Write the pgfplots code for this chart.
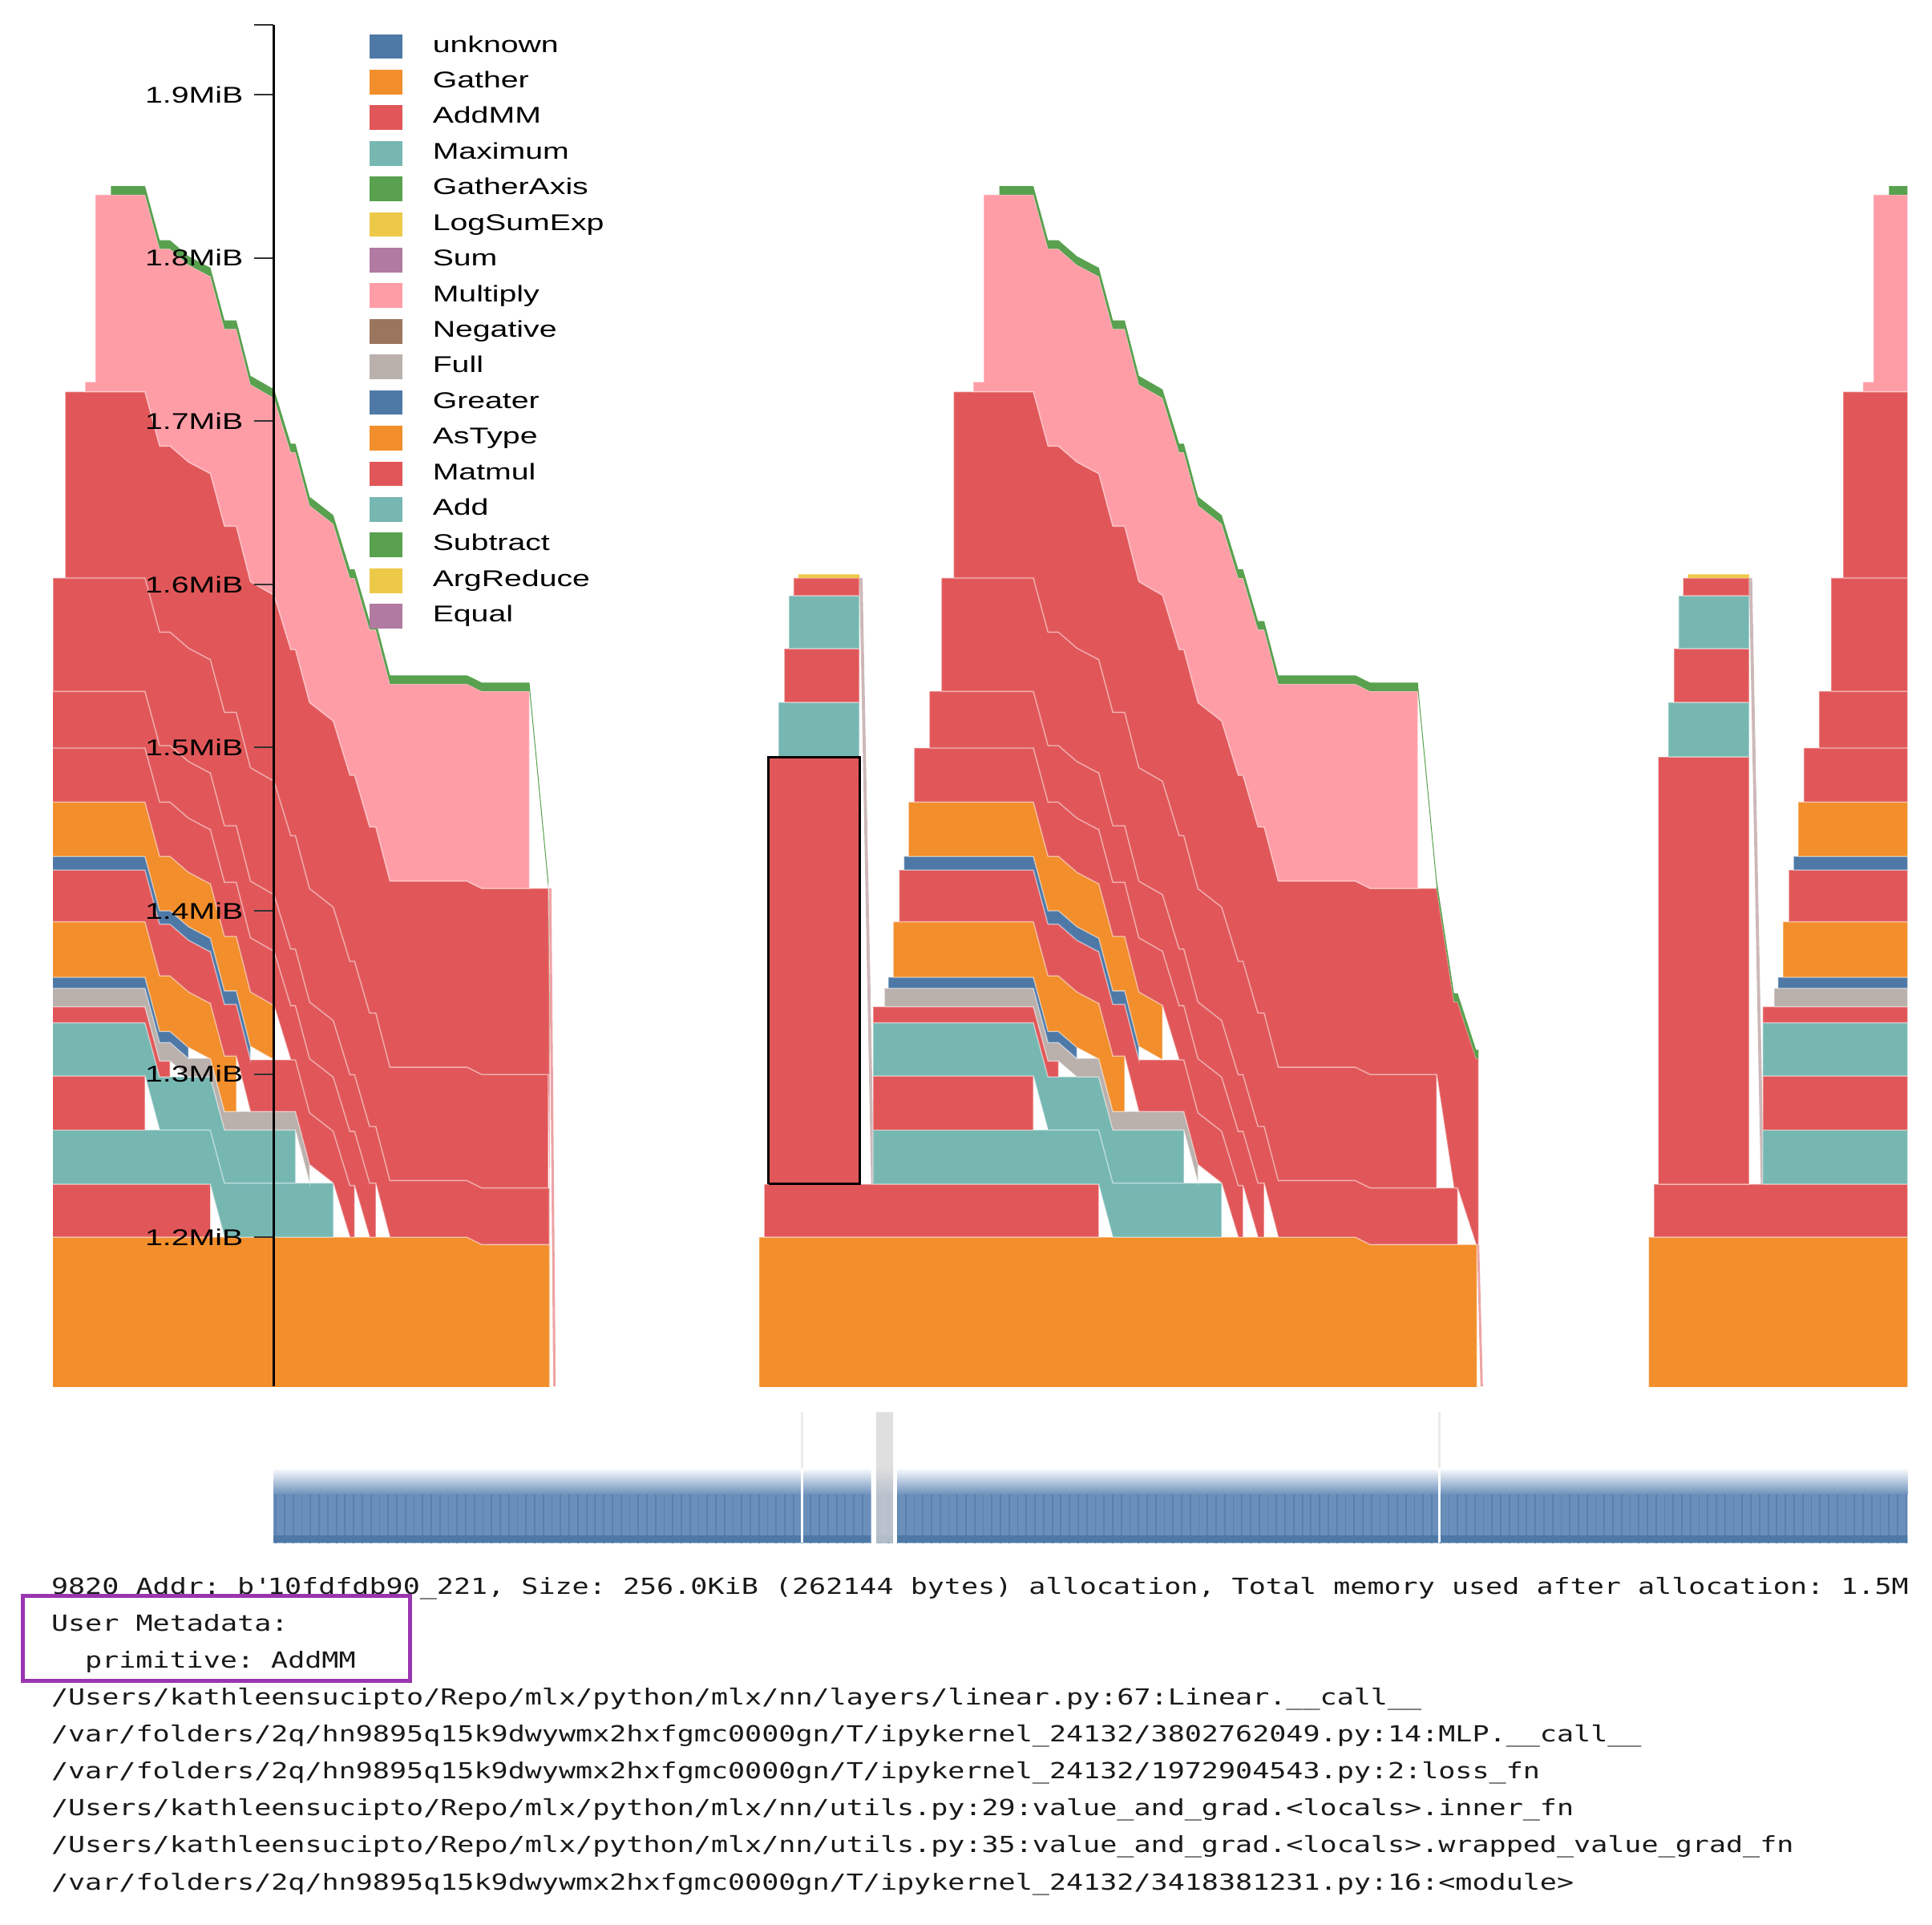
\documentclass[border=0pt]{standalone}
\usepackage{pgfplots}
\pgfplotsset{compat=1.18}
\usepackage{fontspec}
\setmainfont{Liberation Sans}
\newfontfamily\sansx[FakeStretch=1.38]{Liberation Sans}
\newfontfamily\monox[FakeStretch=1.267]{DejaVu Sans Mono}
\usetikzlibrary{patterns.meta}

\definecolor{cBlue}{HTML}{4E79A7}
\definecolor{cOrange}{HTML}{F28E2B}
\definecolor{cRed}{HTML}{E15759}
\definecolor{cTeal}{HTML}{76B7B2}
\definecolor{cGreen}{HTML}{59A14F}
\definecolor{cYellow}{HTML}{EDC948}
\definecolor{cPurple}{HTML}{B07AA1}
\definecolor{cPink}{HTML}{FF9DA7}
\definecolor{cBrown}{HTML}{9C755F}
\definecolor{cGray}{HTML}{BAB0AC}
\definecolor{cBrush}{HTML}{6A8FBB}
\definecolor{cBrushDark}{HTML}{5A80AE}
\definecolor{cBox}{HTML}{9A35B0}
\definecolor{cSliver}{HTML}{CDB8B9}

\def\secshift{0}
\def\secmax{5000}
\pgfplotsset{
  S/.style={x filter/.expression={min(x+\secshift,\secmax)}},
  blk/.style={forget plot, S, draw=white, draw opacity=0.35, line width=0.3pt},
}

\newcommand{\memsection}{%
% B0 orange base
\addplot[blk, fill=cOrange] coordinates {(616,1.09)(616,1.2000)(1100,1.2000)(1112,1.1955)(1198.7,1.1955)(1198.7,1.09)(616,1.09)};
% B1 red
\addplot[blk, fill=cRed] coordinates {(620.3,1.2000)(620.3,1.2325)(891.7,1.2325)(891.7,1.2000)(620.3,1.2000)};
% tower
\addplot[blk, fill=cRed] coordinates {(623.8,1.2325)(623.8,1.4943)(697.5,1.4943)(697.5,1.2325)(623.8,1.2325)};
\addplot[blk, fill=cTeal] coordinates {(631.9,1.4943)(631.9,1.5277)(697.5,1.5277)(697.5,1.4943)(631.9,1.4943)};
\addplot[blk, fill=cRed] coordinates {(636.5,1.5277)(636.5,1.5606)(697.5,1.5606)(697.5,1.5277)(636.5,1.5277)};
\addplot[blk, fill=cTeal] coordinates {(640.3,1.5606)(640.3,1.5930)(697.5,1.5930)(697.5,1.5606)(640.3,1.5606)};
\addplot[blk, fill=cRed] coordinates {(644.1,1.5930)(644.1,1.6039)(697.5,1.6039)(697.5,1.5930)(644.1,1.5930)};
\addplot[blk, draw=none, fill=cYellow] coordinates {(648,1.6039)(648,1.6062)(697.5,1.6062)(697.5,1.6039)(648,1.6039)};
\addplot[blk, draw=none, fill=cSliver] coordinates {(697.5,1.6039)(700,1.6039)(709.5,1.2325)(707,1.2325)(697.5,1.6039)};
% B2 teal
\addplot[blk, fill=cTeal] coordinates {(708.6,1.2325)(708.6,1.2657)(891.7,1.2657)(903.2,1.2332)(991.5,1.2332)(991.5,1.2000)(903.2,1.2000)(891.7,1.2325)(708.6,1.2325)};
% B3 red
\addplot[blk, fill=cRed] coordinates {(708.6,1.2657)(708.6,1.2989)(838.7,1.2989)(838.7,1.2657)(708.6,1.2657)};
% B4 teal
\addplot[blk, fill=cTeal] coordinates {(708.6,1.2989)(708.6,1.3314)(838.7,1.3314)(850.6,1.2982)(891.7,1.2982)(903.2,1.2657)(960.8,1.2657)(960.8,1.2332)(903.2,1.2332)(891.7,1.2657)(850.6,1.2657)(838.7,1.2989)(708.6,1.2989)};
% B5 red thin
\addplot[blk, fill=cRed] coordinates {(708.6,1.3314)(708.6,1.3412)(838.7,1.3412)(850.6,1.3080)(859,1.3080)(859,1.2982)(850.6,1.2982)(838.7,1.3314)(708.6,1.3314)};
% B6 gray
\addplot[blk, fill=cGray] coordinates {(717.8,1.3412)(717.8,1.3525)(838.7,1.3525)(850.6,1.3193)(859,1.3193)(874,1.3095)(891.7,1.3095)(903.2,1.2770)(960.8,1.2770)(972.3,1.2445)(972.3,1.2332)(960.8,1.2657)(903.2,1.2657)(891.7,1.2982)(874,1.2982)(859,1.3080)(850.6,1.3080)(838.7,1.3412)(717.8,1.3412)};
% B7 blue
\addplot[blk, fill=cBlue] coordinates {(720.9,1.3525)(720.9,1.3593)(838.7,1.3593)(850.6,1.3261)(859,1.3261)(874,1.3163)(874,1.3095)(859,1.3193)(850.6,1.3193)(838.7,1.3525)(720.9,1.3525)};
% B8 orange
\addplot[blk, fill=cOrange] coordinates {(725,1.3593)(725,1.3933)(838.7,1.3933)(850.6,1.3601)(859,1.3601)(874,1.3503)(891,1.3435)(891.7,1.3435)(903.2,1.3110)(912.8,1.3110)(912.8,1.2770)(903.2,1.2770)(891.7,1.3095)(891,1.3095)(874,1.3163)(859,1.3261)(850.6,1.3261)(838.7,1.3593)(725,1.3593)};
% B9 red
\addplot[blk, fill=cRed] coordinates {(729.7,1.4250)(838.7,1.4250)(850.6,1.3918)(859,1.3918)(874,1.3820)(891,1.3752)(891.7,1.3752)(903.2,1.3427)(912.8,1.3427)(924.3,1.3087)(960.8,1.3087)(972.3,1.2762)(991.5,1.2649)(1005,1.2317)(1008.8,1.2317)(1008.8,1.2000)(1005,1.2000)(991.5,1.2332)(972.3,1.2445)(960.8,1.2770)(924.3,1.2770)(912.8,1.3110)(903.2,1.3110)(891.7,1.3435)(891,1.3435)(874,1.3503)(859,1.3601)(850.6,1.3601)(838.7,1.3933)(729.7,1.3933)(729.7,1.4250)};
% B10 blue
\addplot[blk, fill=cBlue] coordinates {(733.6,1.4333)(838.7,1.4333)(850.6,1.4001)(859,1.4001)(874,1.3903)(891,1.3835)(891.7,1.3835)(903.2,1.3510)(912.8,1.3510)(924.3,1.3170)(924.3,1.3087)(912.8,1.3427)(903.2,1.3427)(891.7,1.3752)(891,1.3752)(874,1.3820)(859,1.3918)(850.6,1.3918)(838.7,1.4250)(733.6,1.4250)(733.6,1.4333)};
% B11 orange
\addplot[blk, fill=cOrange] coordinates {(737.4,1.4666)(838.7,1.4666)(850.6,1.4334)(859,1.4334)(874,1.4236)(891,1.4168)(891.7,1.4168)(903.2,1.3843)(912.8,1.3843)(924.3,1.3503)(943.5,1.3420)(943.5,1.3087)(924.3,1.3170)(912.8,1.3510)(903.2,1.3510)(891.7,1.3835)(891,1.3835)(874,1.3903)(859,1.4001)(850.6,1.4001)(838.7,1.4333)(737.4,1.4333)(737.4,1.4666)};
% B12 red
\addplot[blk, fill=cRed] coordinates {(742,1.4998)(838.7,1.4998)(850.6,1.4666)(859,1.4666)(874,1.4568)(891,1.4500)(891.7,1.4500)(903.2,1.4175)(912.8,1.4175)(924.3,1.3835)(943.5,1.3752)(957,1.3419)(960.8,1.3419)(972.3,1.3094)(991.5,1.2981)(1005,1.2649)(1008.8,1.2649)(1021,1.2332)(1026,1.2332)(1026,1.2000)(1021,1.2000)(1008.8,1.2317)(1005,1.2317)(991.5,1.2649)(972.3,1.2762)(960.8,1.3087)(957,1.3087)(943.5,1.3420)(924.3,1.3503)(912.8,1.3843)(903.2,1.3843)(891.7,1.4168)(891,1.4168)(874,1.4236)(859,1.4334)(850.6,1.4334)(838.7,1.4666)(742,1.4666)(742,1.4998)};
% B13 red
\addplot[blk, fill=cRed] coordinates {(754.3,1.4998)(754.3,1.5345)(838.7,1.5345)(850.6,1.5013)(859,1.5013)(874,1.4915)(891,1.4847)(891.7,1.4847)(903.2,1.4522)(912.8,1.4522)(924.3,1.4182)(943.5,1.4099)(957,1.3766)(960.8,1.3766)(972.3,1.3441)(991.5,1.3328)(1005,1.2996)(1008.8,1.2996)(1021,1.2679)(1026,1.2679)(1037.5,1.2347)(1100,1.2347)(1112,1.2302)(1183,1.2302)(1183,1.1955)(1112,1.1955)(1100,1.2000)(1037.5,1.2000)(1026,1.2332)(1021,1.2332)(1008.8,1.2649)(1005,1.2649)(991.5,1.2981)(972.3,1.3094)(960.8,1.3419)(957,1.3419)(943.5,1.3752)(924.3,1.3835)(912.8,1.4175)(903.2,1.4175)(891.7,1.4500)(891,1.4500)(874,1.4568)(859,1.4666)(850.6,1.4666)(838.7,1.4998)(754.3,1.4998)};
% B14 red
\addplot[blk, fill=cRed] coordinates {(764,1.5345)(764,1.6040)(838.7,1.6040)(850.6,1.5708)(859,1.5708)(874,1.5610)(891,1.5542)(891.7,1.5542)(903.2,1.5217)(912.8,1.5217)(924.3,1.4877)(943.5,1.4794)(957,1.4461)(960.8,1.4461)(972.3,1.4136)(991.5,1.4023)(1005,1.3691)(1008.8,1.3691)(1021,1.3374)(1026,1.3374)(1037.5,1.3042)(1100,1.3042)(1112,1.2997)(1166,1.2997)(1166,1.2302)(1112,1.2302)(1100,1.2347)(1037.5,1.2347)(1026,1.2679)(1021,1.2679)(1008.8,1.2996)(1005,1.2996)(991.5,1.3328)(972.3,1.3441)(960.8,1.3766)(957,1.3766)(943.5,1.4099)(924.3,1.4182)(912.8,1.4522)(903.2,1.4522)(891.7,1.4847)(891,1.4847)(874,1.4915)(859,1.5013)(850.6,1.5013)(838.7,1.5345)(764,1.5345)};
% B15 red
\addplot[blk, fill=cRed] coordinates {(773.9,1.6040)(773.9,1.7180)(838.7,1.7180)(850.6,1.6848)(859,1.6848)(874,1.6750)(891,1.6682)(891.7,1.6682)(903.2,1.6357)(912.8,1.6357)(924.3,1.6017)(943.5,1.5934)(957,1.5601)(960.8,1.5601)(972.3,1.5276)(991.5,1.5163)(1005,1.4831)(1008.8,1.4831)(1021,1.4514)(1026,1.4514)(1037.5,1.4182)(1100,1.4182)(1112,1.4137)(1166,1.4137)(1180,1.3442)(1183,1.3442)(1198,1.3095)(1200,1.3095)(1200,1.1955)(1198,1.1955)(1183,1.2302)(1180,1.2302)(1166,1.2997)(1112,1.2997)(1100,1.3042)(1037.5,1.3042)(1026,1.3374)(1021,1.3374)(1008.8,1.3691)(1005,1.3691)(991.5,1.4023)(972.3,1.4136)(960.8,1.4461)(957,1.4461)(943.5,1.4794)(924.3,1.4877)(912.8,1.5217)(903.2,1.5217)(891.7,1.5542)(891,1.5542)(874,1.5610)(859,1.5708)(850.6,1.5708)(838.7,1.6040)(773.9,1.6040)};
% B16 pink
\addplot[blk, fill=cPink] coordinates {(790,1.7180)(790,1.7241)(798.4,1.7241)(798.4,1.8388)(838.7,1.8388)(850.6,1.8056)(859,1.8056)(874,1.7958)(891,1.7890)(891.7,1.7890)(903.2,1.7565)(912.8,1.7565)(924.3,1.7225)(943.5,1.7142)(957,1.6809)(960.8,1.6809)(972.3,1.6484)(991.5,1.6371)(1005,1.6039)(1008.8,1.6039)(1021,1.5722)(1026,1.5722)(1037.5,1.5390)(1100,1.5390)(1112,1.5345)(1150.7,1.5345)(1150.7,1.4137)(1112,1.4137)(1100,1.4182)(1037.5,1.4182)(1026,1.4514)(1021,1.4514)(1008.8,1.4831)(1005,1.4831)(991.5,1.5163)(972.3,1.5276)(960.8,1.5601)(957,1.5601)(943.5,1.5934)(924.3,1.6017)(912.8,1.6357)(903.2,1.6357)(891.7,1.6682)(891,1.6682)(874,1.6750)(859,1.6848)(850.6,1.6848)(838.7,1.7180)(790,1.7180)};
% B17 green
\addplot[blk, draw=none, fill=cGreen] coordinates {(811,1.8388)(811,1.8441)(838.7,1.8441)(850.6,1.8109)(859,1.8109)(874,1.8011)(891,1.7943)(891.7,1.7943)(903.2,1.7618)(912.8,1.7618)(924.3,1.7278)(943.5,1.7195)(957,1.6862)(960.8,1.6862)(972.3,1.6537)(991.5,1.6424)(1005,1.6092)(1008.8,1.6092)(1021,1.5775)(1026,1.5775)(1037.5,1.5443)(1100,1.5443)(1112,1.5398)(1150.7,1.5398)(1166,1.4190)(1180,1.3495)(1183,1.3495)(1198,1.3148)(1200,1.3148)(1200,1.3095)(1198,1.3095)(1183,1.3442)(1180,1.3442)(1166,1.4137)(1150.7,1.5345)(1112,1.5345)(1100,1.5390)(1037.5,1.5390)(1026,1.5722)(1021,1.5722)(1008.8,1.6039)(1005,1.6039)(991.5,1.6371)(972.3,1.6484)(960.8,1.6809)(957,1.6809)(943.5,1.7142)(924.3,1.7225)(912.8,1.7565)(903.2,1.7565)(891.7,1.7890)(891,1.7890)(874,1.7958)(859,1.8056)(850.6,1.8056)(838.7,1.8388)(811,1.8388)};
}

\begin{document}
\begin{tikzpicture}
\useasboundingbox (0pt,0pt) rectangle (470.4pt,-468.6pt);

% ---------- main memory timeline ----------
\begin{axis}[
  at={(12.9pt,-337.5pt)}, anchor=south west,
  scale only axis, width=451.5pt, height=331.5pt,
  xmin=43, xmax=1548, ymin=1.1086, ymax=1.9430,
  axis lines=none, xtick=\empty, ytick=\empty,
  clip=true,
  legend cell align=left,
  legend image code/.code={\fill[#1, draw=none] (0pt,-3pt) rectangle (7.95pt,3pt);},
  legend style={
    at={(axis cs:300,1.9430)}, anchor=north west, yshift=-2.3pt,
    draw=none, fill=none, inner sep=0pt, outer sep=0pt,
    font=\sansx\fontsize{5.55pt}{6pt}\selectfont,
    row sep=2.67pt,
    nodes={inner sep=0pt, outer sep=0pt, text height=4.4pt, text depth=1.6pt},
    /tikz/every odd column/.append style={column sep=7.4pt},
  },
]
\addlegendimage{fill=cBlue}\addlegendentry{unknown}
\addlegendimage{fill=cOrange}\addlegendentry{Gather}
\addlegendimage{fill=cRed}\addlegendentry{AddMM}
\addlegendimage{fill=cTeal}\addlegendentry{Maximum}
\addlegendimage{fill=cGreen}\addlegendentry{GatherAxis}
\addlegendimage{fill=cYellow}\addlegendentry{LogSumExp}
\addlegendimage{fill=cPurple}\addlegendentry{Sum}
\addlegendimage{fill=cPink}\addlegendentry{Multiply}
\addlegendimage{fill=cBrown}\addlegendentry{Negative}
\addlegendimage{fill=cGray}\addlegendentry{Full}
\addlegendimage{fill=cBlue}\addlegendentry{Greater}
\addlegendimage{fill=cOrange}\addlegendentry{AsType}
\addlegendimage{fill=cRed}\addlegendentry{Matmul}
\addlegendimage{fill=cTeal}\addlegendentry{Add}
\addlegendimage{fill=cGreen}\addlegendentry{Subtract}
\addlegendimage{fill=cYellow}\addlegendentry{ArgReduce}
\addlegendimage{fill=cPurple}\addlegendentry{Equal}

\def\secshift{(-721)}\def\secmax{446}\memsection
\def\secshift{0}\def\secmax{5000}\memsection
\def\secshift{722}\def\secmax{5000}\memsection

% slivers where the last blocks are released
\addplot[forget plot, draw=none, fill=cRed!55] coordinates {(445.5,1.4137)(447.5,1.4137)(451,1.1086)(449,1.1086)(445.5,1.4137)};
\addplot[forget plot, draw=none, fill=cRed!55] coordinates {(1198.7,1.1955)(1200.5,1.1955)(1203.5,1.1086)(1201.5,1.1086)(1198.7,1.1955)};
% selected allocation
\addplot[forget plot, draw=black, line width=0.6pt, fill=none] coordinates {(623.8,1.2325)(623.8,1.4943)(697.5,1.4943)(697.5,1.2325)(623.8,1.2325)};
\end{axis}

% ---------- y axis ----------
\begin{axis}[
  at={(66.6pt,-337.5pt)}, anchor=south west,
  scale only axis, width=10pt, height=331.5pt,
  xmin=0, xmax=1, ymin=1.1086, ymax=1.9430,
  axis x line=none, axis y line=left,
  y axis line style={-, line width=0.66pt, black},
  xtick=\empty,
  ytick={1.2,1.3,1.4,1.5,1.6,1.7,1.8,1.9},
  yticklabels={1.2MiB,1.3MiB,1.4MiB,1.5MiB,1.6MiB,1.7MiB,1.8MiB,1.9MiB},
  extra y ticks={1.943}, extra y tick labels={},
  tick align=outside, major tick length=4.8pt,
  every tick/.style={line width=0.4pt, black!80},
  yticklabel style={font=\sansx\fontsize{5.55pt}{6pt}\selectfont, inner sep=0pt, anchor=east, xshift=-2.4pt},
]
\addplot[draw=none, forget plot] coordinates {(0,1.5)};
\end{axis}

% ---------- brush overview ----------
\begin{axis}[
  at={(12.9pt,-376.8pt)}, anchor=south west,
  scale only axis, width=451.5pt, height=34.8pt,
  xmin=43, xmax=1548, ymin=0, ymax=1,
  axis lines=none, xtick=\empty, ytick=\empty, clip=true,
]
\addplot[forget plot, draw=none, bottom color=cBrush, top color=white] coordinates {(222,0.37)(1548,0.37)(1548,0.56)(222,0.56)(222,0.37)};
\addplot[forget plot, draw=none, fill=cBrush, postaction={pattern={Lines[angle=90,distance=2.1pt,line width=0.35pt]}, pattern color=cBrushDark}] coordinates {(222,0.034)(1548,0.034)(1548,0.371)(222,0.371)(222,0.034)};
\addplot[forget plot, draw=none, fill=cBlue] coordinates {(222,0.034)(1548,0.034)(1548,0.086)(222,0.086)(222,0.034)};
\addplot[forget plot, draw=none, fill=white] coordinates {(707,0)(711,0)(711,0.6)(707,0.6)(707,0)};
\addplot[forget plot, draw=none, fill=white] coordinates {(724.8,0)(728,0)(728,0.6)(724.8,0.6)(724.8,0)};
\addplot[forget plot, draw=none, fill=black!17, fill opacity=0.75] coordinates {(711,0.034)(724.8,0.034)(724.8,0.948)(711,0.948)(711,0.034)};
\addplot[forget plot, draw=white, line width=0.5pt] coordinates {(651,0.034)(651,0.56)};
\addplot[forget plot, draw=black!8, line width=0.5pt] coordinates {(651,0.56)(651,0.95)};
\addplot[forget plot, draw=white, line width=0.5pt] coordinates {(1168,0.034)(1168,0.56)};
\addplot[forget plot, draw=black!8, line width=0.5pt] coordinates {(1168,0.56)(1168,0.95)};
\end{axis}

% ---------- allocation details text ----------
\begin{scope}
\clip (12.75pt,-378pt) rectangle (465pt,-468.6pt);
\begin{scope}[every node/.style={anchor=base west, inner sep=0pt, font=\monox\fontsize{5.4pt}{6pt}\selectfont\frenchspacing, text=black!90}]
\node at (12.3pt,-388.05pt) {9820 Addr: b\textquotesingle 10fdfdb90\_221, Size: 256.0KiB (262144 bytes) allocation, Total memory used after allocation: 1.5M};
\node at (12.3pt,-397.05pt) {User Metadata:};
\node at (20.5pt,-406.05pt) {primitive: AddMM};
\node at (12.3pt,-415.05pt) {/Users/kathleensucipto/Repo/mlx/python/mlx/nn/layers/linear.py:67:Linear.\_\_call\_\_};
\node at (12.3pt,-424.05pt) {/var/folders/2q/hn9895q15k9dwywmx2hxfgmc0000gn/T/ipykernel\_24132/3802762049.py:14:MLP.\_\_call\_\_};
\node at (12.3pt,-433.05pt) {/var/folders/2q/hn9895q15k9dwywmx2hxfgmc0000gn/T/ipykernel\_24132/1972904543.py:2:loss\_fn};
\node at (12.3pt,-442.05pt) {/Users/kathleensucipto/Repo/mlx/python/mlx/nn/utils.py:29:value\_and\_grad.<locals>.inner\_fn};
\node at (12.3pt,-451.05pt) {/Users/kathleensucipto/Repo/mlx/python/mlx/nn/utils.py:35:value\_and\_grad.<locals>.wrapped\_value\_grad\_fn};
\node at (12.3pt,-460.05pt) {/var/folders/2q/hn9895q15k9dwywmx2hxfgmc0000gn/T/ipykernel\_24132/3418381231.py:16:<module>};
\end{scope}
\end{scope}
\draw[line width=1pt, cBox] (5.55pt,-388.5pt) rectangle (99.9pt,-409.2pt);
\end{tikzpicture}
\end{document}
